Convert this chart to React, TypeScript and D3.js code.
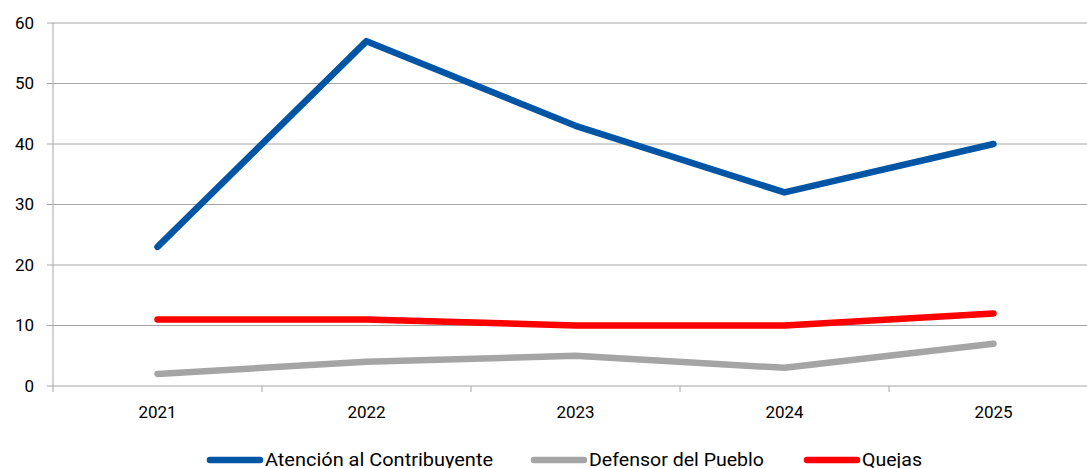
import React, { useEffect } from 'react';
import * as d3 from 'd3';

const years = ['2021', '2022', '2023', '2024', '2025'];
const atencion = [23, 57, 43, 32, 40];
const defensor = [2, 4, 5, 3, 7];
const quejas = [11, 11, 10, 10, 12];
const yTicks = [0, 10, 20, 30, 40, 50, 60];

const series = [
  { name: 'Atención al Contribuyente', values: atencion, color: '#0055A5' },
  { name: 'Defensor del Pueblo', values: defensor, color: '#A5A5A5' },
  { name: 'Quejas', values: quejas, color: '#FF0000' },
];

function App() {
  const width = 1087;
  const height = 468;
  const margin = { top: 23, right: -11, bottom: 82, left: 53 };
  const font = 'Roboto, "Noto Sans", sans-serif';

  useEffect(() => {
    document.body.style.margin = '0';
  }, []);

  const xScale = d3
    .scaleBand()
    .domain(years)
    .range([margin.left, width - margin.right]);
  const yScale = d3
    .scaleLinear()
    .domain([0, 60])
    .range([height - margin.bottom, margin.top]);
  const line = d3
    .line<number>()
    .x((d, i) => (xScale(years[i]) as number) + xScale.bandwidth() / 2)
    .y(d => yScale(d));

  const bandEdges = years.map(y => xScale(y) as number).concat([width - margin.right]);
  // legend item left edges and text widths, as in the original
  const legendX = [207, 531, 804];
  const legendTextW = [228, 175, 60];

  return (
    <svg width={width} height={height} style={{ display: 'block' }}>
      {yTicks.map(t => (
        <g key={t}>
          <line x1={margin.left - 6} x2={width} y1={yScale(t)} y2={yScale(t)} stroke="#A6A6A6" strokeWidth={1} />
          <text x={34} y={yScale(t)} dy="0.35em" textAnchor="end" fontFamily={font} fontSize={17} fill="#000">
            {t}
          </text>
        </g>
      ))}
      <line x1={margin.left} x2={margin.left} y1={margin.top} y2={yScale(0)} stroke="#A6A6A6" strokeWidth={1} />
      {bandEdges.map((x, i) => (
        <line key={i} x1={x} x2={x} y1={yScale(0)} y2={yScale(0) + 6} stroke="#A6A6A6" strokeWidth={1} />
      ))}
      {years.map(y => (
        <text key={y} x={(xScale(y) as number) + xScale.bandwidth() / 2} y={418} textAnchor="middle" fontFamily={font} fontSize={17} fill="#000">
          {y}
        </text>
      ))}
      {series.map(s => (
        <path key={s.name} d={line(s.values) || ''} fill="none" stroke={s.color} strokeWidth={6.5} strokeLinecap="round" strokeLinejoin="round" />
      ))}
      {series.map((s, i) => (
        <g key={s.name}>
          <line x1={legendX[i] + 3} x2={legendX[i] + 53} y1={460} y2={460} stroke={s.color} strokeWidth={6.5} strokeLinecap="round" />
          <text
            x={legendX[i] + 58}
            y={466}
            fontFamily={font}
            fontSize={18}
            fill="#000"
            textLength={legendTextW[i]}
            lengthAdjust="spacingAndGlyphs"
          >
            {s.name}
          </text>
        </g>
      ))}
    </svg>
  );
}

export default App;
